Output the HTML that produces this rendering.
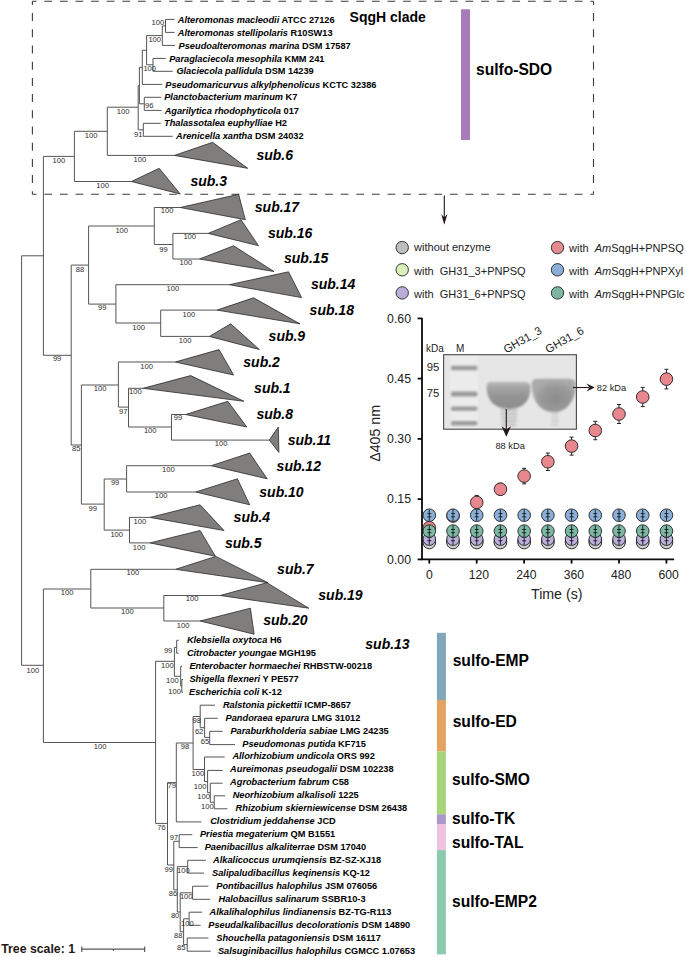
<!DOCTYPE html>
<html><head><meta charset="utf-8"><style>
html,body{margin:0;padding:0;background:#fff;}
body{width:685px;height:957px;overflow:hidden;font-family:"Liberation Sans",sans-serif;}
svg{display:block;}
</style></head><body>
<svg width="685" height="957" viewBox="0 0 685 957">
<g fill="none" stroke="#3c3c3c" stroke-width="1.1">
<path d="M32.4 1.3 V194.3" stroke-dasharray="8 8.2" stroke-dashoffset="4.4"/>
<path d="M593.5 1.3 V194.3" stroke-dasharray="8 8.2" stroke-dashoffset="4.4"/>
<path d="M32.4 1.3 H593.5" stroke-dasharray="7.8 7.8" stroke-dashoffset="3.7"/>
<path d="M32.4 194.3 H593.5" stroke-dasharray="7.8 7.8" stroke-dashoffset="3.7"/>
</g>
<g stroke="#555" stroke-width="1" fill="none" shape-rendering="auto">
<line x1="165.5" y1="19.4" x2="174.5" y2="19.4"/>
<line x1="165.5" y1="32.4" x2="174.5" y2="32.4"/>
<line x1="162.3" y1="45.4" x2="175" y2="45.4"/>
<line x1="153" y1="58.4" x2="165.8" y2="58.4"/>
<line x1="153" y1="71.3" x2="172.7" y2="71.3"/>
<line x1="142.3" y1="84.4" x2="162.2" y2="84.4"/>
<line x1="144.3" y1="97.3" x2="161.2" y2="97.3"/>
<line x1="144.3" y1="110.4" x2="161.7" y2="110.4"/>
<line x1="143.3" y1="123.3" x2="160.7" y2="123.3"/>
<line x1="143.3" y1="136.3" x2="172.7" y2="136.3"/>
<line x1="176.7" y1="640.3" x2="178.7" y2="640.3"/>
<line x1="176.7" y1="653.2" x2="178.7" y2="653.2"/>
<line x1="180.7" y1="666.4" x2="182" y2="666.4"/>
<line x1="181.8" y1="679.5" x2="183" y2="679.5"/>
<line x1="181.8" y1="692.3" x2="183" y2="692.3"/>
<line x1="200.2" y1="705.2" x2="215" y2="705.2"/>
<line x1="204.6" y1="718.3" x2="217.8" y2="718.3"/>
<line x1="209.7" y1="731.3" x2="222.7" y2="731.3"/>
<line x1="209.7" y1="744.6" x2="235" y2="744.6"/>
<line x1="204.5" y1="757" x2="224.7" y2="757"/>
<line x1="207.6" y1="770.4" x2="222.6" y2="770.4"/>
<line x1="210.3" y1="783.2" x2="222.6" y2="783.2"/>
<line x1="214.2" y1="795.8" x2="225.2" y2="795.8"/>
<line x1="214.2" y1="808.8" x2="227.4" y2="808.8"/>
<line x1="176.3" y1="821.9" x2="201.5" y2="821.9"/>
<line x1="179.2" y1="834.7" x2="192.3" y2="834.7"/>
<line x1="179.2" y1="847.6" x2="197.7" y2="847.6"/>
<line x1="187.7" y1="860.3" x2="205.9" y2="860.3"/>
<line x1="187.7" y1="873.1" x2="204" y2="873.1"/>
<line x1="192.6" y1="886.2" x2="208.4" y2="886.2"/>
<line x1="192.6" y1="899.3" x2="210.3" y2="899.3"/>
<line x1="189.1" y1="912.2" x2="202.1" y2="912.2"/>
<line x1="189.1" y1="925.3" x2="200.7" y2="925.3"/>
<line x1="187.2" y1="938" x2="208.4" y2="938"/>
<line x1="187.2" y1="951.2" x2="210.6" y2="951.2"/>
<line x1="165.5" y1="19.4" x2="165.5" y2="32.4"/>
<line x1="162.3" y1="25.9" x2="162.3" y2="45.4"/>
<line x1="153" y1="58.4" x2="153" y2="71.3"/>
<line x1="146.6" y1="35.6" x2="146.6" y2="64.8"/>
<line x1="142.3" y1="50.2" x2="142.3" y2="84.4"/>
<line x1="144.3" y1="97.3" x2="144.3" y2="110.4"/>
<line x1="143.3" y1="123.3" x2="143.3" y2="136.3"/>
<line x1="139.4" y1="67.3" x2="139.4" y2="103.8"/>
<line x1="138.2" y1="85.6" x2="138.2" y2="129.8"/>
<line x1="107.3" y1="107.2" x2="107.3" y2="155.4"/>
<line x1="74.4" y1="131.3" x2="74.4" y2="181.5"/>
<line x1="43.4" y1="156.4" x2="43.4" y2="355.3"/>
<line x1="21.6" y1="255.8" x2="21.6" y2="665.3"/>
<line x1="154.3" y1="207.5" x2="154.3" y2="244.5"/>
<line x1="172.9" y1="233.4" x2="172.9" y2="259"/>
<line x1="88.6" y1="226" x2="88.6" y2="304.1"/>
<line x1="71.2" y1="265.1" x2="71.2" y2="445"/>
<line x1="115.9" y1="284.7" x2="115.9" y2="323"/>
<line x1="160.7" y1="310.1" x2="160.7" y2="336.4"/>
<line x1="81.4" y1="385" x2="81.4" y2="504.1"/>
<line x1="118.4" y1="362" x2="118.4" y2="407.1"/>
<line x1="128.5" y1="388.3" x2="128.5" y2="427"/>
<line x1="171.5" y1="414.5" x2="171.5" y2="440.1"/>
<line x1="104.2" y1="479" x2="104.2" y2="530.1"/>
<line x1="126.6" y1="465.7" x2="126.6" y2="492"/>
<line x1="129.5" y1="517.4" x2="129.5" y2="542.9"/>
<line x1="43.4" y1="589" x2="43.4" y2="742.5"/>
<line x1="90.8" y1="569.3" x2="90.8" y2="608"/>
<line x1="163.8" y1="595.5" x2="163.8" y2="621"/>
<line x1="155.6" y1="661.3" x2="155.6" y2="823.4"/>
<line x1="174.4" y1="647.4" x2="174.4" y2="676.3"/>
<line x1="176.7" y1="640.3" x2="176.7" y2="653.2"/>
<line x1="180.7" y1="666.4" x2="180.7" y2="686"/>
<line x1="181.8" y1="679.5" x2="181.8" y2="692.3"/>
<line x1="167.5" y1="782.6" x2="167.5" y2="865"/>
<line x1="176.3" y1="743" x2="176.3" y2="821.9"/>
<line x1="193.1" y1="716.5" x2="193.1" y2="769.5"/>
<line x1="200.2" y1="705.2" x2="200.2" y2="727.7"/>
<line x1="204.6" y1="718.3" x2="204.6" y2="737.4"/>
<line x1="209.7" y1="731.3" x2="209.7" y2="744.6"/>
<line x1="204.5" y1="757" x2="204.5" y2="781.5"/>
<line x1="207.6" y1="770.4" x2="207.6" y2="792.7"/>
<line x1="210.3" y1="783.2" x2="210.3" y2="802.3"/>
<line x1="214.2" y1="795.8" x2="214.2" y2="808.8"/>
<line x1="173.8" y1="841.3" x2="173.8" y2="889.8"/>
<line x1="179.2" y1="834.7" x2="179.2" y2="847.6"/>
<line x1="177.3" y1="866.6" x2="177.3" y2="912"/>
<line x1="187.7" y1="860.3" x2="187.7" y2="873.1"/>
<line x1="180.2" y1="892.8" x2="180.2" y2="931.7"/>
<line x1="192.6" y1="886.2" x2="192.6" y2="899.3"/>
<line x1="183.6" y1="918.8" x2="183.6" y2="944.6"/>
<line x1="189.1" y1="912.2" x2="189.1" y2="925.3"/>
<line x1="187.2" y1="938" x2="187.2" y2="951.2"/>
<line x1="162.3" y1="25.9" x2="165.5" y2="25.9"/>
<line x1="146.6" y1="35.6" x2="162.3" y2="35.6"/>
<line x1="146.6" y1="64.8" x2="153" y2="64.8"/>
<line x1="142.3" y1="50.2" x2="146.6" y2="50.2"/>
<line x1="139.4" y1="67.3" x2="142.3" y2="67.3"/>
<line x1="139.4" y1="103.8" x2="144.3" y2="103.8"/>
<line x1="138.2" y1="85.6" x2="139.4" y2="85.6"/>
<line x1="138.2" y1="129.8" x2="143.3" y2="129.8"/>
<line x1="107.3" y1="107.2" x2="138.2" y2="107.2"/>
<line x1="74.4" y1="131.3" x2="107.3" y2="131.3"/>
<line x1="107.3" y1="155.4" x2="174.4" y2="155.4"/>
<line x1="74.4" y1="181.5" x2="131.4" y2="181.5"/>
<line x1="43.4" y1="156.4" x2="74.4" y2="156.4"/>
<line x1="21.6" y1="255.8" x2="43.4" y2="255.8"/>
<line x1="154.3" y1="207.5" x2="180.2" y2="207.5"/>
<line x1="172.9" y1="233.4" x2="208.2" y2="233.4"/>
<line x1="172.9" y1="259" x2="199.5" y2="259"/>
<line x1="154.3" y1="244.5" x2="172.9" y2="244.5"/>
<line x1="88.6" y1="226" x2="154.3" y2="226"/>
<line x1="71.2" y1="265.1" x2="88.6" y2="265.1"/>
<line x1="88.6" y1="304.1" x2="115.9" y2="304.1"/>
<line x1="115.9" y1="284.7" x2="229.3" y2="284.7"/>
<line x1="115.9" y1="323" x2="160.7" y2="323"/>
<line x1="160.7" y1="310.1" x2="217" y2="310.1"/>
<line x1="160.7" y1="336.4" x2="209.4" y2="336.4"/>
<line x1="43.4" y1="355.3" x2="71.2" y2="355.3"/>
<line x1="71.2" y1="445" x2="81.4" y2="445"/>
<line x1="81.4" y1="385" x2="118.4" y2="385"/>
<line x1="118.4" y1="362" x2="175.3" y2="362"/>
<line x1="118.4" y1="407.1" x2="128.5" y2="407.1"/>
<line x1="128.5" y1="388.3" x2="143.1" y2="388.3"/>
<line x1="128.5" y1="427" x2="171.5" y2="427"/>
<line x1="171.5" y1="414.5" x2="185.5" y2="414.5"/>
<line x1="171.5" y1="440.1" x2="269.3" y2="440.1"/>
<line x1="81.4" y1="504.1" x2="104.2" y2="504.1"/>
<line x1="104.2" y1="479" x2="126.6" y2="479"/>
<line x1="104.2" y1="530.1" x2="129.5" y2="530.1"/>
<line x1="126.6" y1="465.7" x2="211.2" y2="465.7"/>
<line x1="126.6" y1="492" x2="195.7" y2="492"/>
<line x1="129.5" y1="517.4" x2="149.9" y2="517.4"/>
<line x1="129.5" y1="542.9" x2="149.9" y2="542.9"/>
<line x1="21.6" y1="665.3" x2="43.4" y2="665.3"/>
<line x1="43.4" y1="589" x2="90.8" y2="589"/>
<line x1="90.8" y1="569.3" x2="175.6" y2="569.3"/>
<line x1="90.8" y1="608" x2="163.8" y2="608"/>
<line x1="163.8" y1="595.5" x2="220.1" y2="595.5"/>
<line x1="163.8" y1="621" x2="200.1" y2="621"/>
<line x1="43.4" y1="742.5" x2="155.6" y2="742.5"/>
<line x1="155.6" y1="661.3" x2="174.4" y2="661.3"/>
<line x1="174.4" y1="647.4" x2="176.7" y2="647.4"/>
<line x1="174.4" y1="676.3" x2="180.7" y2="676.3"/>
<line x1="180.7" y1="686" x2="181.8" y2="686"/>
<line x1="155.6" y1="823.4" x2="167.5" y2="823.4"/>
<line x1="167.5" y1="782.6" x2="176.3" y2="782.6"/>
<line x1="176.3" y1="743" x2="193.1" y2="743"/>
<line x1="193.1" y1="716.5" x2="200.2" y2="716.5"/>
<line x1="200.2" y1="727.7" x2="204.6" y2="727.7"/>
<line x1="204.6" y1="737.4" x2="209.7" y2="737.4"/>
<line x1="193.1" y1="769.5" x2="204.5" y2="769.5"/>
<line x1="204.5" y1="781.5" x2="207.6" y2="781.5"/>
<line x1="207.6" y1="792.7" x2="210.3" y2="792.7"/>
<line x1="210.3" y1="802.3" x2="214.2" y2="802.3"/>
<line x1="167.5" y1="865" x2="173.8" y2="865"/>
<line x1="173.8" y1="841.3" x2="179.2" y2="841.3"/>
<line x1="173.8" y1="889.8" x2="177.3" y2="889.8"/>
<line x1="177.3" y1="866.6" x2="187.7" y2="866.6"/>
<line x1="177.3" y1="912" x2="180.2" y2="912"/>
<line x1="180.2" y1="892.8" x2="192.6" y2="892.8"/>
<line x1="180.2" y1="931.7" x2="183.6" y2="931.7"/>
<line x1="183.6" y1="918.8" x2="189.1" y2="918.8"/>
<line x1="183.6" y1="944.6" x2="187.2" y2="944.6"/>
</g>
<g fill="#807e7c" stroke="#2a2a2a" stroke-width="0.8" stroke-linejoin="miter">
<polygon points="174.4,155.4 212.6,142.3 247.7,168.3"/>
<polygon points="131.4,181.5 159.2,168.3 180.2,194"/>
<polygon points="180.2,207.5 238.6,194.3 245.3,219.7"/>
<polygon points="208.2,233.4 241,219.7 258.5,245.7"/>
<polygon points="199.5,259 233.6,245.8 273.9,271.5"/>
<polygon points="229.3,284.7 288.5,271.8 301.6,297.6"/>
<polygon points="217,310.1 253.5,297.8 299.9,323.8"/>
<polygon points="209.4,336.4 230.7,323.8 259.3,349.5"/>
<polygon points="175.3,362 219,349.6 233.6,375"/>
<polygon points="143.1,388.3 190.7,375.6 243.9,401.3"/>
<polygon points="185.5,414.5 227.8,401.3 246.8,427"/>
<polygon points="269.3,440.1 278.3,427 278.9,452.4"/>
<polygon points="211.2,465.7 249.7,453.1 267.2,478.8"/>
<polygon points="195.7,492 237.4,478.8 249.7,504.8"/>
<polygon points="149.9,517.4 200.1,504.8 224,530.5"/>
<polygon points="149.9,542.9 200.1,530.5 215.3,556.2"/>
<polygon points="175.6,569.3 215.8,556.4 268,582.7"/>
<polygon points="220.1,595.5 266.9,582.7 308.8,608.2"/>
<polygon points="200.1,621 250.4,608.2 254.1,634.2"/>
</g>
<g font-family="Liberation Sans" font-weight="bold" font-style="italic" font-size="14" fill="#000">
<text x="256.4" y="160.2">sub.6</text>
<text x="190.4" y="185.9">sub.3</text>
<text x="254.8" y="211.8">sub.17</text>
<text x="268" y="237.7">sub.16</text>
<text x="284" y="262.9">sub.15</text>
<text x="310.9" y="289.1">sub.14</text>
<text x="309.6" y="315">sub.18</text>
<text x="268.6" y="341">sub.9</text>
<text x="243.3" y="366.9">sub.2</text>
<text x="254.1" y="392.6">sub.1</text>
<text x="256.4" y="418.8">sub.8</text>
<text x="287.7" y="444.8">sub.11</text>
<text x="276.6" y="470.7">sub.12</text>
<text x="259.3" y="496.6">sub.10</text>
<text x="233.6" y="521.8">sub.4</text>
<text x="224.9" y="547.8">sub.5</text>
<text x="277.1" y="574.2">sub.7</text>
<text x="318.3" y="599.7">sub.19</text>
<text x="263.2" y="625.3">sub.20</text>
<text x="365.3" y="648.7">sub.13</text>
</g>
<g font-family="Liberation Sans" font-size="7.6" fill="#2a2a2a">
<text x="151.5" y="25.4">100</text>
<text x="148.4" y="42.4">100</text>
<text x="143.4" y="71">100</text>
<text x="145.1" y="107.7">96</text>
<text x="134.1" y="136.8">91</text>
<text x="116.8" y="114.1">100</text>
<text x="84.7" y="138.3">100</text>
<text x="133.6" y="161.7">100</text>
<text x="52.5" y="163">100</text>
<text x="96.3" y="187.6">100</text>
<text x="52.9" y="361.2">99</text>
<text x="75.7" y="271.9">88</text>
<text x="115.4" y="233">100</text>
<text x="160.7" y="213">100</text>
<text x="159.2" y="252.4">99</text>
<text x="183.4" y="239.3">100</text>
<text x="179.6" y="265.1">100</text>
<text x="98" y="310.3">99</text>
<text x="166.5" y="291.1">100</text>
<text x="132.3" y="329.6">100</text>
<text x="182.6" y="317.4">100</text>
<text x="178.8" y="342.8">100</text>
<text x="72" y="451.3">85</text>
<text x="93.8" y="391.2">100</text>
<text x="140.2" y="368.6">100</text>
<text x="119.1" y="414">97</text>
<text x="129" y="394.2">100</text>
<text x="143.9" y="433.4">100</text>
<text x="173.8" y="420.3">99</text>
<text x="214.7" y="446">100</text>
<text x="88.6" y="511.3">99</text>
<text x="110.9" y="485.2">99</text>
<text x="162.1" y="472.1">100</text>
<text x="154.8" y="497.8">100</text>
<text x="110.4" y="537.3">100</text>
<text x="133.5" y="524.1">100</text>
<text x="132.8" y="549.8">100</text>
<text x="26.6" y="672.5">100</text>
<text x="60.8" y="595.2">100</text>
<text x="126.6" y="575.3">100</text>
<text x="121.1" y="614.3">100</text>
<text x="185.8" y="600.6">100</text>
<text x="176.7" y="627.6">100</text>
<text x="93.8" y="749.4">100</text>
<text x="163.9" y="652.5">99</text>
<text x="161" y="668.3">100</text>
<text x="166.1" y="682.6">100</text>
<text x="168.2" y="693.5">100</text>
<text x="167.5" y="788">79</text>
<text x="180.7" y="749.2">98</text>
<text x="192.6" y="723.1">98</text>
<text x="194.9" y="734.3">62</text>
<text x="200.7" y="744.3">65</text>
<text x="191.6" y="775.9">100</text>
<text x="193.8" y="788.8">100</text>
<text x="197.2" y="799.2">100</text>
<text x="201.1" y="808.5">100</text>
<text x="157.3" y="830.4">76</text>
<text x="164.6" y="872">99</text>
<text x="169.7" y="840.1">97</text>
<text x="168.7" y="896.1">86</text>
<text x="177" y="873">100</text>
<text x="170.9" y="918.3">80</text>
<text x="179.9" y="899.3">100</text>
<text x="174.1" y="937.6">88</text>
<text x="181.1" y="925.6">100</text>
<text x="177" y="950.4">85</text>
</g>
<g font-family="Liberation Sans" font-weight="bold" font-size="9.22" fill="#000">
<text x="177.8" y="22.6"><tspan font-style="italic">Alteromonas macleodii</tspan> ATCC 27126</text>
<text x="177.8" y="35.6"><tspan font-style="italic">Alteromonas stellipolaris</tspan> R10SW13</text>
<text x="178.6" y="48.5"><tspan font-style="italic">Pseudoalteromonas marina</tspan> DSM 17587</text>
<text x="169.2" y="61.5"><tspan font-style="italic">Paraglaciecola mesophila</tspan> KMM 241</text>
<text x="176.4" y="74.4"><tspan font-style="italic">Glaciecola pallidula</tspan> DSM 14239</text>
<text x="165.3" y="87.5"><tspan font-style="italic">Pseudomaricurvus alkylphenolicus</tspan> KCTC 32386</text>
<text x="164.2" y="100.4"><tspan font-style="italic">Planctobacterium marinum</tspan> K7</text>
<text x="164.7" y="113.5"><tspan font-style="italic">Agarilytica rhodophyticola</tspan> 017</text>
<text x="164" y="126.4"><tspan font-style="italic">Thalassotalea euphylliae</tspan> H2</text>
<text x="176" y="139.4"><tspan font-style="italic">Arenicella xantha</tspan> DSM 24032</text>
<text x="186.9" y="642.9"><tspan font-style="italic">Klebsiella oxytoca</tspan> H6</text>
<text x="186.9" y="655.9"><tspan font-style="italic">Citrobacter youngae</tspan> MGH195</text>
<text x="189.4" y="668.8"><tspan font-style="italic">Enterobacter hormaechei</tspan> RHBSTW-00218</text>
<text x="189.4" y="681.8"><tspan font-style="italic">Shigella flexneri</tspan> Y PE577</text>
<text x="189.1" y="694.7"><tspan font-style="italic">Escherichia coli</tspan> K-12</text>
<text x="222.9" y="707.6"><tspan font-style="italic">Ralstonia pickettii</tspan> ICMP-8657</text>
<text x="225.6" y="720.6"><tspan font-style="italic">Pandoraea eparura</tspan> LMG 31012</text>
<text x="230.4" y="733.5"><tspan font-style="italic">Paraburkholderia sabiae</tspan> LMG 24235</text>
<text x="242.3" y="746.5"><tspan font-style="italic">Pseudomonas putida</tspan> KF715</text>
<text x="232.4" y="759.4"><tspan font-style="italic">Allorhizobium undicola</tspan> ORS 992</text>
<text x="230.1" y="772.4"><tspan font-style="italic">Aureimonas pseudogalii</tspan> DSM 102238</text>
<text x="230.1" y="785.4"><tspan font-style="italic">Agrobacterium fabrum</tspan> C58</text>
<text x="232.7" y="798.3"><tspan font-style="italic">Neorhizobium alkalisoli</tspan> 1225</text>
<text x="235.6" y="811.2"><tspan font-style="italic">Rhizobium skierniewicense</tspan> DSM 26438</text>
<text x="210.2" y="824.2"><tspan font-style="italic">Clostridium jeddahense</tspan> JCD</text>
<text x="199.9" y="837.1"><tspan font-style="italic">Priestia megaterium</tspan> QM B1551</text>
<text x="204.7" y="850.1"><tspan font-style="italic">Paenibacillus alkaliterrae</tspan> DSM 17040</text>
<text x="213.1" y="863"><tspan font-style="italic">Alkalicoccus urumqiensis</tspan> BZ-SZ-XJ18</text>
<text x="212.1" y="876"><tspan font-style="italic">Salipaludibacillus keqinensis</tspan> KQ-12</text>
<text x="216.3" y="888.9"><tspan font-style="italic">Pontibacillus halophilus</tspan> JSM 076056</text>
<text x="218.5" y="901.9"><tspan font-style="italic">Halobacillus salinarum</tspan> SSBR10-3</text>
<text x="209.5" y="914.9"><tspan font-style="italic">Alkalihalophilus lindianensis</tspan> BZ-TG-R113</text>
<text x="208.3" y="927.8"><tspan font-style="italic">Pseudalkalibacillus decolorationis</tspan> DSM 14890</text>
<text x="216.3" y="940.7"><tspan font-style="italic">Shouchella patagoniensis</tspan> DSM 16117</text>
<text x="217.9" y="953.7"><tspan font-style="italic">Salsuginibacillus halophilus</tspan> CGMCC 1.07653</text>
</g>
<g font-family="Liberation Sans" font-weight="bold" fill="#000">
<text x="349.6" y="21.9" font-size="14">SqgH clade</text>
<g font-size="15.6">
<text x="476" y="74.6">sulfo-SDO</text>
<text x="452.7" y="666.1">sulfo-EMP</text>
<text x="452.7" y="727.1">sulfo-ED</text>
<text x="452" y="784.9">sulfo-SMO</text>
<text x="452" y="823.9">sulfo-TK</text>
<text x="452" y="847.9">sulfo-TAL</text>
<text x="452" y="907.3">sulfo-EMP2</text>
</g>
<text x="1.2" y="952.7" font-size="12.3" fill="#231815">Tree scale: 1</text>
</g>
<rect x="461" y="9.3" width="9" height="130.7" fill="#A87BB9"/>
<rect x="436.9" y="632.8" width="9" height="67.2" fill="#82A6BA"/>
<rect x="436.9" y="700" width="9" height="51.4" fill="#E3A462"/>
<rect x="436.9" y="751.4" width="9" height="62.9" fill="#A8D47A"/>
<rect x="436.9" y="814.3" width="9" height="9.7" fill="#A899C8"/>
<rect x="436.9" y="824" width="9" height="26.1" fill="#EFC2DD"/>
<rect x="436.9" y="850.1" width="9" height="104.3" fill="#8CCAB0"/>
<g stroke="#555" stroke-width="1.2"><line x1="81.8" y1="949.2" x2="144.7" y2="949.2"/><line x1="81.8" y1="946.6" x2="81.8" y2="952"/><line x1="144.7" y1="946.6" x2="144.7" y2="952"/><line x1="113.5" y1="949.2" x2="113.5" y2="951"/></g>
<g stroke="#231815" fill="#231815">
<line x1="444.3" y1="195.5" x2="444.3" y2="220" stroke-width="1.1"/>
<path d="M444.3 224.7 L441.2 213.9 L444.3 217.5 L447.4 213.9 Z" stroke="none"/>
</g>
<g stroke="#333" stroke-width="1">
<circle cx="402.2" cy="247.6" r="6.2" fill="#BEBEBE"/>
<circle cx="402.2" cy="269.8" r="6.2" fill="#D9F0B8"/>
<circle cx="402.2" cy="292.9" r="6.2" fill="#BBAEDB"/>
<circle cx="557.5" cy="247.6" r="6.2" fill="#E58B8F"/>
<circle cx="557.5" cy="269.8" r="6.2" fill="#8AAED6"/>
<circle cx="557.5" cy="292.9" r="6.2" fill="#7DB5A5"/>
</g>
<g font-family="Liberation Sans" font-size="11" fill="#222" xml:space="preserve">
<text x="414.1" y="251.3">without enzyme</text>
<text x="414.1" y="274.6">with&#160; GH31_3+PNPSQ</text>
<text x="414.1" y="297.6">with&#160; GH31_6+PNPSQ</text>
<text x="569.1" y="251.8">with&#160; <tspan font-style="italic">Am</tspan>SqgH+PNPSQ</text>
<text x="569.1" y="275">with&#160; <tspan font-style="italic">Am</tspan>SqgH+PNPXyl</text>
<text x="569.1" y="298">with&#160; <tspan font-style="italic">Am</tspan>SqgH+PNPGlc</text>
</g>
<g stroke="#0a0a0a" stroke-width="1.8" fill="none">
<path d="M422 318 V559.4 H674.1"/>
<line x1="417.6" y1="559.4" x2="422" y2="559.4"/>
<line x1="417.6" y1="499.1" x2="422" y2="499.1"/>
<line x1="417.6" y1="438.9" x2="422" y2="438.9"/>
<line x1="417.6" y1="378.6" x2="422" y2="378.6"/>
<line x1="417.6" y1="318.4" x2="422" y2="318.4"/>
<line x1="429.3" y1="559.4" x2="429.3" y2="563.6"/>
<line x1="476.7" y1="559.4" x2="476.7" y2="563.6"/>
<line x1="524.1" y1="559.4" x2="524.1" y2="563.6"/>
<line x1="571.6" y1="559.4" x2="571.6" y2="563.6"/>
<line x1="619.0" y1="559.4" x2="619.0" y2="563.6"/>
<line x1="666.4" y1="559.4" x2="666.4" y2="563.6"/>
</g>
<g font-family="Liberation Sans" font-size="12.3" fill="#222" text-anchor="end">
<text x="411" y="563.6">0.00</text>
<text x="411" y="503.3">0.15</text>
<text x="411" y="443.1">0.30</text>
<text x="411" y="382.8">0.45</text>
<text x="411" y="322.6">0.60</text>
</g>
<g font-family="Liberation Sans" font-size="12.2" fill="#222" text-anchor="middle">
<text x="429.3" y="578.9">0</text>
<text x="478.9" y="578.9">120</text>
<text x="526.3" y="578.9">240</text>
<text x="573.8" y="578.9">360</text>
<text x="621.2" y="578.9">480</text>
<text x="668.6" y="578.9">600</text>
</g>
<text x="531" y="599.4" font-family="Liberation Sans" font-size="14.2" fill="#222">Time (s)</text>
<text transform="translate(379.5 461.8) rotate(-90)" x="0" y="0" font-family="Liberation Sans" font-size="14.2" fill="#222">Δ405 nm</text>
<defs>
<linearGradient id="b1" x1="0" y1="0" x2="0" y2="1"><stop offset="0" stop-color="#bcbcbc"/><stop offset="0.22" stop-color="#a4a4a4"/><stop offset="0.6" stop-color="#929292"/><stop offset="1" stop-color="#8e8e8e"/></linearGradient>
<radialGradient id="b2" cx="0.55" cy="0.6" r="0.55"><stop offset="0" stop-color="#8c8c8c"/><stop offset="0.6" stop-color="#989898"/><stop offset="1" stop-color="#aaaaaa"/></radialGradient>
<filter id="blur" x="-20%" y="-20%" width="140%" height="140%"><feGaussianBlur stdDeviation="1.0"/></filter>
<filter id="blur2" x="-20%" y="-50%" width="140%" height="200%"><feGaussianBlur stdDeviation="0.9"/></filter>
</defs>
<rect x="443.6" y="354.7" width="132.8" height="74.5" fill="#e6e6e6"/>
<rect x="450.3" y="355.5" width="27.4" height="73" fill="#ebebeb"/>
<g filter="url(#blur2)" fill="#9c9c9c">
<rect x="451" y="365.7" width="26.4" height="4.6" rx="1.5"/>
<rect x="451" y="391.6" width="26.4" height="5.0" rx="1.5"/>
<rect x="451" y="406.5" width="26.4" height="4.3" rx="1.5"/>
<rect x="451" y="421.1" width="26.4" height="4.3" rx="1.5"/>
</g>
<g filter="url(#blur)">
<g fill="#b8b8b8">
<rect x="500.5" y="409.5" width="17.0" height="1.8"/>
<rect x="500.8" y="413.1" width="16.4" height="1.8"/>
<rect x="501.1" y="416.7" width="15.8" height="1.8"/>
<rect x="501.4" y="420.3" width="15.2" height="1.8"/>
<rect x="501.7" y="423.9" width="14.6" height="1.8"/>
</g>
<g fill="#cacaca">
<rect x="551.5" y="413.0" width="7" height="1.8"/>
<rect x="551.5" y="416.6" width="7" height="1.8"/>
<rect x="551.5" y="420.2" width="7" height="1.8"/>
<rect x="551.5" y="423.8" width="7" height="1.8"/>
</g>
<path d="M486.6 387 C486.6 381.7 489 381.7 495 381.7 L522 381.7 C528.5 381.7 530.4 382.2 530.4 388 C530.4 401 523 408.7 509 409 C495 408.7 486.6 401 486.6 387 Z" fill="url(#b1)"/>
<path d="M531.8 384 C531.8 379 535 378.8 542 378.8 L566 378.8 C573.5 378.8 575.6 380 575.6 385 C575.6 401 566 412.3 554 412.3 C540 412 531.8 401 531.8 384 Z" fill="url(#b2)"/>
</g>
<rect x="443.6" y="354.7" width="132.8" height="74.5" fill="none" stroke="#4a4a4a" stroke-width="1.1"/>
<g stroke="#231815" fill="#231815">
<line x1="506.3" y1="409" x2="506.3" y2="430" stroke-width="1.1"/>
<path d="M506.3 436.8 L501.6 426.2 L506.3 429.6 L511 426.2 Z" stroke="none"/>
<line x1="572.9" y1="387.5" x2="589" y2="387.5" stroke-width="1.1"/>
<path d="M594.8 387.5 L586.6 383.4 L589.5 387.5 L586.6 391.6 Z" stroke="none"/>
</g>
<g font-family="Liberation Sans" font-size="9.3" fill="#222">
<text x="596.8" y="390.8">82 kDa</text>
<text x="495.4" y="448.6">88 kDa</text>
<text x="426" y="351.7" font-size="10">kDa</text>
<text x="455.9" y="351.7" font-size="10">M</text>
<text x="426.7" y="371.4" font-size="11.3">95</text>
<text x="426.7" y="397.3" font-size="11.3">75</text>
<text transform="translate(506.2 353.6) rotate(-29.5)" font-size="11.3">GH31_3</text>
<text transform="translate(548 353.6) rotate(-29.5)" font-size="11.3">GH31_6</text>
</g>
<g stroke="#1e1e1e" stroke-width="0.9">
<circle cx="429.30" cy="541.32" r="6.3" fill="#D9F0B8"/>
<circle cx="453.01" cy="541.32" r="6.3" fill="#D9F0B8"/>
<circle cx="476.73" cy="541.32" r="6.3" fill="#D9F0B8"/>
<circle cx="500.44" cy="541.32" r="6.3" fill="#D9F0B8"/>
<circle cx="524.16" cy="541.32" r="6.3" fill="#D9F0B8"/>
<circle cx="547.87" cy="541.32" r="6.3" fill="#D9F0B8"/>
<circle cx="571.58" cy="541.32" r="6.3" fill="#D9F0B8"/>
<circle cx="595.30" cy="541.32" r="6.3" fill="#D9F0B8"/>
<circle cx="619.01" cy="541.32" r="6.3" fill="#D9F0B8"/>
<circle cx="642.72" cy="541.32" r="6.3" fill="#D9F0B8"/>
<circle cx="666.44" cy="541.32" r="6.3" fill="#D9F0B8"/>
<circle cx="429.30" cy="542.53" r="6.3" fill="#CDCDCD"/>
<circle cx="453.01" cy="542.53" r="6.3" fill="#CDCDCD"/>
<circle cx="476.73" cy="542.53" r="6.3" fill="#CDCDCD"/>
<circle cx="500.44" cy="542.53" r="6.3" fill="#CDCDCD"/>
<circle cx="524.16" cy="542.53" r="6.3" fill="#CDCDCD"/>
<circle cx="547.87" cy="542.53" r="6.3" fill="#CDCDCD"/>
<circle cx="571.58" cy="542.53" r="6.3" fill="#CDCDCD"/>
<circle cx="595.30" cy="542.53" r="6.3" fill="#CDCDCD"/>
<circle cx="619.01" cy="542.53" r="6.3" fill="#CDCDCD"/>
<circle cx="642.72" cy="542.53" r="6.3" fill="#CDCDCD"/>
<circle cx="666.44" cy="542.53" r="6.3" fill="#CDCDCD"/>
<circle cx="429.30" cy="539.11" r="6.3" fill="#BBAEDB"/>
<circle cx="453.01" cy="539.11" r="6.3" fill="#BBAEDB"/>
<circle cx="476.73" cy="539.11" r="6.3" fill="#BBAEDB"/>
<circle cx="500.44" cy="539.11" r="6.3" fill="#BBAEDB"/>
<circle cx="524.16" cy="539.11" r="6.3" fill="#BBAEDB"/>
<circle cx="547.87" cy="539.11" r="6.3" fill="#BBAEDB"/>
<circle cx="571.58" cy="539.11" r="6.3" fill="#BBAEDB"/>
<circle cx="595.30" cy="539.11" r="6.3" fill="#BBAEDB"/>
<circle cx="619.01" cy="539.11" r="6.3" fill="#BBAEDB"/>
<circle cx="642.72" cy="539.11" r="6.3" fill="#BBAEDB"/>
<circle cx="666.44" cy="539.11" r="6.3" fill="#BBAEDB"/>
</g>
<g stroke="#111" stroke-width="0.85" fill="none"><path d="M429.30 533.51V544.71M427.30 537.51H431.30M427.30 540.71H431.30M453.01 533.51V544.71M451.01 537.51H455.01M451.01 540.71H455.01M476.73 533.51V544.71M474.73 537.51H478.73M474.73 540.71H478.73M500.44 533.51V544.71M498.44 537.51H502.44M498.44 540.71H502.44M524.16 533.51V544.71M522.16 537.51H526.16M522.16 540.71H526.16M547.87 533.51V544.71M545.87 537.51H549.87M545.87 540.71H549.87M571.58 533.51V544.71M569.58 537.51H573.58M569.58 540.71H573.58M595.30 533.51V544.71M593.30 537.51H597.30M593.30 540.71H597.30M619.01 533.51V544.71M617.01 537.51H621.01M617.01 540.71H621.01M642.72 533.51V544.71M640.72 537.51H644.72M640.72 540.71H644.72M666.44 533.51V544.71M664.44 537.51H668.44M664.44 540.71H668.44"/></g>
<g stroke="#222" stroke-width="1" fill="none"><path d="M429.30 523.67V531.67M427.30 523.67H431.30M427.30 531.67H431.30M453.01 512.02V520.02M451.01 512.02H455.01M451.01 520.02H455.01M476.73 495.44V509.44M474.73 495.44H478.73M474.73 509.44H478.73M500.44 483.22V495.22M498.44 483.22H502.44M498.44 495.22H502.44M524.16 468.29V483.89M522.16 468.29H526.16M522.16 483.89H526.16M547.87 453.05V470.45M545.87 453.05H549.87M545.87 470.45H549.87M571.58 437.12V455.12M569.58 437.12H573.58M569.58 455.12H573.58M595.30 421.33V439.73M593.30 421.33H597.30M593.30 439.73H597.30M619.01 404.52V423.52M617.01 404.52H621.01M617.01 423.52H621.01M642.72 387.39V406.59M640.72 387.39H644.72M640.72 406.59H644.72M666.44 369.32V388.92M664.44 369.32H668.44M664.44 388.92H668.44"/></g>
<g stroke="#1e1e1e" stroke-width="0.9">
<circle cx="429.30" cy="527.67" r="6.3" fill="#E8878D"/>
<circle cx="453.01" cy="516.02" r="6.3" fill="#E8878D"/>
<circle cx="476.73" cy="502.44" r="6.3" fill="#E8878D"/>
<circle cx="500.44" cy="489.22" r="6.3" fill="#E8878D"/>
<circle cx="524.16" cy="476.09" r="6.3" fill="#E8878D"/>
<circle cx="547.87" cy="461.75" r="6.3" fill="#E8878D"/>
<circle cx="571.58" cy="446.12" r="6.3" fill="#E8878D"/>
<circle cx="595.30" cy="430.53" r="6.3" fill="#E8878D"/>
<circle cx="619.01" cy="414.02" r="6.3" fill="#E8878D"/>
<circle cx="642.72" cy="396.99" r="6.3" fill="#E8878D"/>
<circle cx="666.44" cy="379.12" r="6.3" fill="#E8878D"/>
</g>
<g stroke="#1e1e1e" stroke-width="0.9">
<circle cx="429.30" cy="531.08" r="6.3" fill="#7DB8A6"/>
<circle cx="453.01" cy="531.08" r="6.3" fill="#7DB8A6"/>
<circle cx="476.73" cy="531.08" r="6.3" fill="#7DB8A6"/>
<circle cx="500.44" cy="531.08" r="6.3" fill="#7DB8A6"/>
<circle cx="524.16" cy="531.08" r="6.3" fill="#7DB8A6"/>
<circle cx="547.87" cy="531.08" r="6.3" fill="#7DB8A6"/>
<circle cx="571.58" cy="531.08" r="6.3" fill="#7DB8A6"/>
<circle cx="595.30" cy="531.08" r="6.3" fill="#7DB8A6"/>
<circle cx="619.01" cy="531.08" r="6.3" fill="#7DB8A6"/>
<circle cx="642.72" cy="531.08" r="6.3" fill="#7DB8A6"/>
<circle cx="666.44" cy="531.08" r="6.3" fill="#7DB8A6"/>
</g>
<g stroke="#111" stroke-width="0.85" fill="none"><path d="M429.30 525.48V536.68M427.30 529.48H431.30M427.30 532.68H431.30M453.01 525.48V536.68M451.01 529.48H455.01M451.01 532.68H455.01M476.73 525.48V536.68M474.73 529.48H478.73M474.73 532.68H478.73M500.44 525.48V536.68M498.44 529.48H502.44M498.44 532.68H502.44M524.16 525.48V536.68M522.16 529.48H526.16M522.16 532.68H526.16M547.87 525.48V536.68M545.87 529.48H549.87M545.87 532.68H549.87M571.58 525.48V536.68M569.58 529.48H573.58M569.58 532.68H573.58M595.30 525.48V536.68M593.30 529.48H597.30M593.30 532.68H597.30M619.01 525.48V536.68M617.01 529.48H621.01M617.01 532.68H621.01M642.72 525.48V536.68M640.72 529.48H644.72M640.72 532.68H644.72M666.44 525.48V536.68M664.44 529.48H668.44M664.44 532.68H668.44"/></g>
<g stroke="#1e1e1e" stroke-width="0.9">
<circle cx="429.30" cy="515.21" r="6.3" fill="#8AB0D8"/>
<circle cx="453.01" cy="515.21" r="6.3" fill="#8AB0D8"/>
<circle cx="476.73" cy="515.21" r="6.3" fill="#8AB0D8"/>
<circle cx="500.44" cy="515.21" r="6.3" fill="#8AB0D8"/>
<circle cx="524.16" cy="515.21" r="6.3" fill="#8AB0D8"/>
<circle cx="547.87" cy="515.21" r="6.3" fill="#8AB0D8"/>
<circle cx="571.58" cy="515.21" r="6.3" fill="#8AB0D8"/>
<circle cx="595.30" cy="515.21" r="6.3" fill="#8AB0D8"/>
<circle cx="619.01" cy="515.21" r="6.3" fill="#8AB0D8"/>
<circle cx="642.72" cy="515.21" r="6.3" fill="#8AB0D8"/>
<circle cx="666.44" cy="515.21" r="6.3" fill="#8AB0D8"/>
</g>
<g stroke="#111" stroke-width="0.85" fill="none"><path d="M429.30 509.61V520.81M427.30 513.61H431.30M427.30 516.81H431.30M453.01 509.61V520.81M451.01 513.61H455.01M451.01 516.81H455.01M476.73 509.61V520.81M474.73 513.61H478.73M474.73 516.81H478.73M500.44 509.61V520.81M498.44 513.61H502.44M498.44 516.81H502.44M524.16 509.61V520.81M522.16 513.61H526.16M522.16 516.81H526.16M547.87 509.61V520.81M545.87 513.61H549.87M545.87 516.81H549.87M571.58 509.61V520.81M569.58 513.61H573.58M569.58 516.81H573.58M595.30 509.61V520.81M593.30 513.61H597.30M593.30 516.81H597.30M619.01 509.61V520.81M617.01 513.61H621.01M617.01 516.81H621.01M642.72 509.61V520.81M640.72 513.61H644.72M640.72 516.81H644.72M666.44 509.61V520.81M664.44 513.61H668.44M664.44 516.81H668.44"/></g>
</svg>
</body></html>
